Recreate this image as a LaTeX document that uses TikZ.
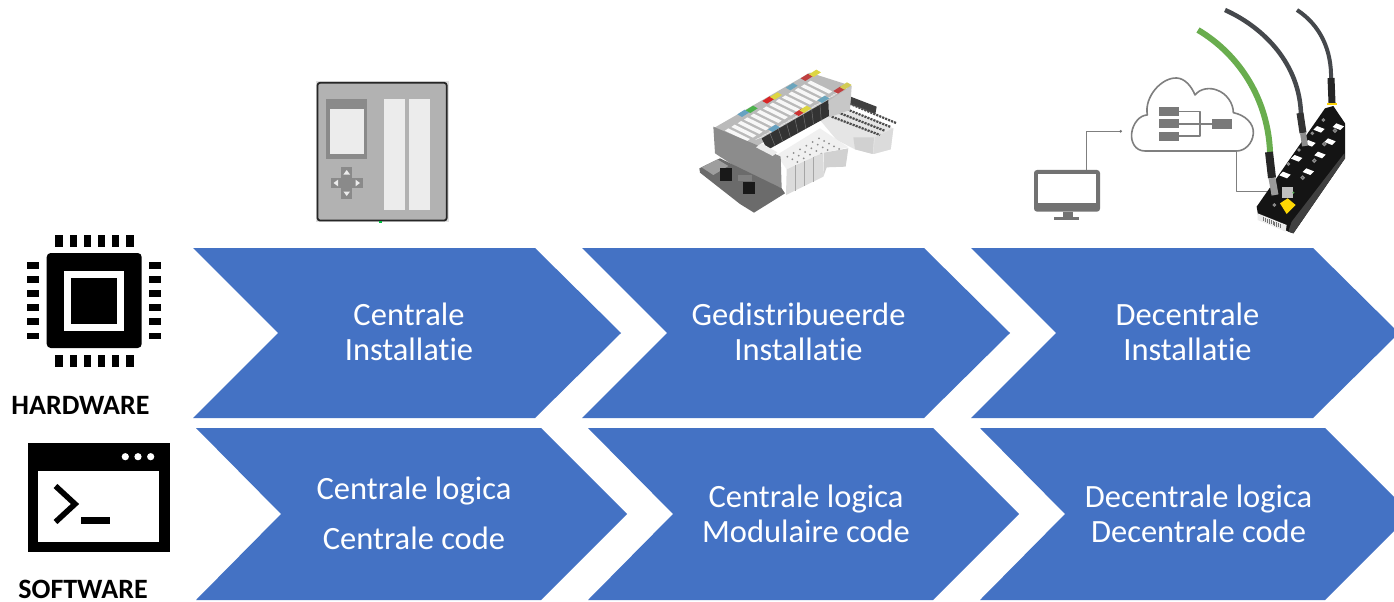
\documentclass[tikz,border=0pt]{standalone}
\usepackage{fontspec}
\setmainfont[Ligatures={NoCommon,TeX}]{Carlito}
\usetikzlibrary{calc}
\definecolor{chev}{HTML}{4472C4}
\definecolor{cgrey}{HTML}{7F7F7F}
\definecolor{pbody}{HTML}{B2B2B2}
\definecolor{pdark}{HTML}{8A8A8A}
\definecolor{plight}{HTML}{ECECEC}
\definecolor{cgreen}{HTML}{69AD4E}
\definecolor{ccable}{HTML}{45484C}
\tikzset{
  chevron/.style={fill=chev,draw=none},
  lbl/.style={text=white,align=center,font=\fontsize{32.5}{35}\selectfont,inner sep=0pt},
  side/.style={text=black,font=\fontsize{28}{30}\selectfont\bfseries,inner sep=0pt},
  blk/.style={fill=black,draw=none},
  wire/.style={draw=cgrey,line width=1.6pt,line join=round},
  gbox/.style={fill=cgrey!95!black,draw=none},
}
\newcommand\chevr[6]{% x0 xshoulder xtip notch ytop ybot
  \fill[chevron] (#1,#5) -- (#2,#5) -- (#3,{(#5+#6)/2}) -- (#2,#6) -- (#1,#6) -- (#4,{(#5+#6)/2}) -- cycle;}
\newcommand\mtag[3]{\fill[#3] ({#1-18},{#2+3}) -- ({#1+4},{#2-11}) -- ({#1+18},{#2-3}) -- ({#1-4},{#2+11}) -- cycle;}
\begin{document}
\begin{tikzpicture}[x=1pt,y=-1pt]
\useasboundingbox (0,0) rectangle (1394,602);
\clip (0,0) rectangle (1394,602);
\fill[white] (0,0) rectangle (1394,602);

% chevrons
\chevr{193}{535}{621}{278}{248}{418}
\chevr{582}{924}{1010}{667}{248}{418}
\chevr{971}{1313}{1399}{1056}{248}{418}
\chevr{196}{541}{627}{281}{428}{600}
\chevr{588}{933}{1019}{673}{428}{600}
\chevr{980}{1325}{1411}{1065}{428}{600}

% chevron texts
\node[lbl] (a1) at (409,331.5) {Centrale\\Installatie};
\node[lbl] (a2) at (798.5,331.5) {Gedistribueerde\\Installatie};
\node[lbl] (a3) at (1187.5,331.5) {Decentrale\\Installatie};
\node[lbl] (b1a) at (414,491.5) {Centrale logica};
\node[lbl] (b1b) at (414,538) {Centrale code};
\node[lbl] (b2) at (806,513.5) {Centrale logica\\Modulaire code};
\node[lbl] (b3) at (1198.5,513.5) {Decentrale logica\\Decentrale code};

% side labels
\node[side] (hw) at (80.5,405) {HARDWARE};
\node[side] (sw) at (83,589.5) {SOFTWARE};

% chip icon
\fill[blk,rounded corners=4pt] (46.7,253) rectangle (141.7,348);
\fill[white] (64,271) rectangle (124.3,331);
\fill[blk] (71.3,278.3) rectangle (117.3,324.3);
\foreach \p in {59,73.2,87.3,101.6,115.7,130}{
  \fill[blk] (\p-3.6,234.7) rectangle (\p+3.6,246.7);
  \fill[blk] (\p-3.6,355) rectangle (\p+3.6,367.3);
}
\foreach \p in {265.7,279.4,293.4,307.4,321.7,336}{
  \fill[blk] (26.7,\p-3.3) rectangle (39.3,\p+3.3);
  \fill[blk] (148.7,\p-3.3) rectangle (161.3,\p+3.3);
}

% terminal icon
\fill[blk] (28,442.7) rectangle (170,552.3);
\fill[white] (38.3,471) rectangle (159.3,541.7);
\foreach \p in {125.3,138,150.7}{\fill[white] (\p,456.7) circle (3.6);}
\draw[black,line width=5.6pt] (55.5,486) -- (75,504) -- (55.5,522);
\fill[blk] (81,516.7) rectangle (109.7,524);

% PLC
\fill[black!12] (315.5,81) rectangle (449,222);
\fill[pbody,draw=black!85,line width=1.8pt,rounded corners=2.5pt] (317.5,82.8) rectangle (446.7,220.5);
\fill[pdark] (326.3,98.7) rectangle (367,159);
\fill[plight] (330,108.7) rectangle (363.7,154.3);
\fill[plight] (384,98.7) rectangle (404.7,210);
\fill[plight] (409,98.7) rectangle (430,210);
\fill[pdark] (341.3,167) rectangle (352,199);
\fill[pdark] (330.7,177.7) rectangle (362.7,188.4);
\fill[plight] (346.7,170) -- (350,174.5) -- (343.4,174.5) -- cycle;
\fill[plight] (346.7,196) -- (350,191.5) -- (343.4,191.5) -- cycle;
\fill[plight] (333.5,183) -- (338,179.7) -- (338,186.3) -- cycle;
\fill[plight] (360,183) -- (355.5,179.7) -- (355.5,186.3) -- cycle;
\fill[green!50!teal] (378.5,220.5) rectangle (381.5,223);

% distributed module (reference photo redrawn)
\begin{scope}[shift={(680,60)},scale=1/3]
  % rear terminal block
  \fill[black!10] (420,180) -- (480,145) -- (640,205) -- (632,268) -- (580,282) -- (525,268) -- (470,240) -- cycle;
  \fill[black!18] (520,232) -- (582,232) -- (578,282) -- (525,268) -- cycle;
  \fill[black!14] (585,232) -- (640,205) -- (632,268) -- (580,282) -- cycle;
  \fill[black!75] (512,110) -- (590,140) -- (586,162) -- (510,132) -- cycle;
  \foreach \i in {0,1,2,3}{
    \draw[black!70,line width=2.2pt,dash pattern=on 2.2pt off 1pt] ({455+\i*18},{170-\i*13}) -- ({600+\i*16},{225-\i*12});
  }
  % right end of the body
  \fill[black!22] (445,118) -- (515,78) -- (510,150) -- (447,172) -- cycle;
  % top of the body
  \fill[black!27] (100,205) -- (390,38) -- (515,78) -- (232,258) -- cycle;
  \foreach \i in {0,...,13}{
    \fill[black!3] ({135+\i*19},{212-\i*11}) -- ({145+\i*19},{205-\i*11}) -- ({210+\i*19},{237-\i*11}) -- ({200+\i*19},{244-\i*11}) -- cycle;
    \fill[black!6] ({225+\i*19},{240-\i*11}) -- ({233+\i*19},{235-\i*11}) -- ({258+\i*19},{225-\i*11}) -- ({250+\i*19},{230-\i*11}) -- cycle;
  }
  \mtag{190}{160}{blue!35!cyan!60!black!60}
  \mtag{215}{148}{green!40!gray}
  \mtag{265}{120}{red!70!gray}
  \mtag{288}{108}{yellow!70!gray}
  \mtag{335}{80}{cyan!45!gray}
  \mtag{380}{52}{red!50!gray}
  \mtag{405}{40}{yellow!70!gray}
  \mtag{282}{205}{blue!35!cyan!60!black!60}
  \mtag{360}{157}{red!60!gray}
  \mtag{376}{148}{yellow!70!gray}
  \mtag{430}{118}{cyan!45!gray}
  \mtag{478}{90}{red!50!gray}
  \mtag{497}{78}{yellow!60!gray}
  % dark strip
  \fill[black!80] (245,235) -- (445,120) -- (447,168) -- (262,270) -- cycle;
  \foreach \i in {1,...,7}{
    \draw[black!55,line width=.5pt] ({245+\i*25},{235-\i*14.4}) -- ({262+\i*23.1},{270-\i*12.7});
  }
  % front terminal block
  \fill[black!6] (290,285) -- (420,205) -- (505,262) -- (430,278) -- (320,328) -- cycle;
  \foreach \i in {0,...,5}{\foreach \j in {0,...,5}{
    \fill[black!45] ({322+\i*19+\j*15},{290-\i*11+\j*8}) circle (3);
  }}
  \fill[black!14] (320,328) -- (430,278) -- (430,350) -- (318,405) -- cycle;
  \fill[black!18] (432,278) -- (505,265) -- (497,320) -- (440,322) -- (430,350) -- cycle;
  \foreach \i in {1,2,3}{
    \draw[black!35,line width=.5pt] ({320+\i*27},{328-\i*12}) -- ({320+\i*27},{405-\i*13});
  }
  % grey translucent face
  \fill[black!45] (100,200) -- (230,255) -- (302,290) -- (305,385) -- (230,362) -- (105,280) -- cycle;
  \fill[black!8] (228,262) -- (245,250) -- (292,277) -- (278,288) -- cycle;
  % base
  \fill[black!58] (58,325) -- (120,295) -- (305,385) -- (315,400) -- (222,458) -- (180,432) -- (60,338) -- cycle;
  \fill[black!38] (65,322) -- (112,298) -- (145,318) -- (100,345) -- cycle;
  \fill[black!90] (120,325) rectangle (155,362);
  \fill[black!90] (190,366) rectangle (225,402);
  \fill[black!50] (175,345) rectangle (215,362);
\end{scope}

% decentral: coordinates for the network sketch
\begin{scope}[shift={(1020,0)},scale=1/3]
  % cloud
  \draw[wire,fill=white] (375,453) .. controls (345,453) and (332,425) .. (335,400)
     .. controls (338,370) and (360,345) .. (382,345)
     .. controls (372,290) and (425,232) .. (470,234)
     .. controls (495,235) and (515,260) .. (525,285)
     .. controls (540,265) and (570,262) .. (590,270)
     .. controls (620,280) and (640,310) .. (640,338)
     .. controls (675,345) and (702,370) .. (700,400)
     .. controls (698,430) and (675,453) .. (650,453) -- cycle;
  \fill[gbox] (418,322) rectangle (478,348);
  \fill[gbox] (418,358) rectangle (478,384);
  \fill[gbox] (418,395) rectangle (478,422);
  \fill[gbox] (577,358) rectangle (637,386);
  \draw[wire,line width=1.2pt] (478,335) -- (540,335) -- (540,408) -- (478,408);
  \draw[wire,line width=1.2pt] (478,372) -- (577,372);
  % monitor and links
  \coordinate (dot) at (302,394);
  \coordinate (mon) at (200,510);
  \coordinate (cl) at (650,453);
  \coordinate (dev) at (740,575);
  \draw[wire] (dot) -| (mon);
  \fill[cgrey!90!black] (dot) circle (4.4pt);
  \draw[wire] (cl) |- (dev);
  \fill[cgrey!90!black,rounded corners=3pt] (42,510) rectangle (240,635);
  \fill[white] (53,521) rectangle (229,610);
  \fill[cgrey!90!black] (130,635) rectangle (160,655);
  \fill[cgrey!90!black] (103,652) rectangle (178,661);
\end{scope}

% device
\begin{scope}[shift={(1225,90)},scale=1/3]
  \fill[black!92] (95,350) -- (300,55) -- (325,48) -- (360,100) -- (360,205) -- (205,430) -- (190,425) -- (100,380) -- cycle;
  \fill[black!75] (190,425) -- (205,430) -- (360,205) -- (358,190) -- (200,395) -- cycle;
  \fill[black!8] (98,370) -- (185,405) -- (182,425) -- (98,390) -- cycle;
  \foreach \i in {0,...,9}{\fill[black!55] ({115+\i*5.5},{381+\i*2.3}) rectangle ({118+\i*5.5},{394+\i*2.3});}
  \fill[yellow!75!orange] (165,340) -- (188,325) -- (212,345) -- (185,372) -- cycle;
  \foreach \x/\y in {180/255,215/205,250/245,285/195,315/155,282/118,340/110,255/160}{
    \fill[white] ({\x-17},{\y+1}) -- ({\x-6},{\y-10}) -- ({\x+17},{\y-1}) -- ({\x+6},{\y+10}) -- cycle;
  }
  \foreach \x/\y in {190/222,222/180,262/130,295/90,148/345}{
    \draw[black!45,line width=1.1pt,fill=black!70] (\x,\y) circle (3.6pt);
  }
  \foreach \x/\y in {233/263,268/212,298/162,330/122}{
    \draw[black!45,line width=1.1pt,fill=black!70] (\x,\y) circle (5pt);
  }
  \fill[black!50] (143,304) circle (5pt);
  \fill[black!25] (170,290) rectangle (205,325);
  \fill[green!35!gray] (205,308) circle (3.5pt);
\end{scope}

% cables
\draw[cgreen,line width=6pt] (1198,30) .. controls (1240,55) and (1268,100) .. (1270,152);
\draw[ccable,line width=4.5pt] (1225,10) .. controls (1265,28) and (1300,65) .. (1301,115);
\draw[ccable,line width=4pt] (1297,10) .. controls (1320,25) and (1332,50) .. (1331,80);
\draw[black!85,line width=8pt] (1269,152) -- (1272,178);
\draw[black!40,line width=7pt] (1272,178) -- (1275,195);
\draw[black!80,line width=7pt] (1300,113) -- (1303,133);
\draw[black!45,line width=6pt] (1303,133) -- (1305,146);
\draw[black!85,line width=7pt] (1331,78) -- (1332,103);
\fill[yellow!70!orange] (1327,103) rectangle (1337,105);
\end{tikzpicture}
\end{document}
